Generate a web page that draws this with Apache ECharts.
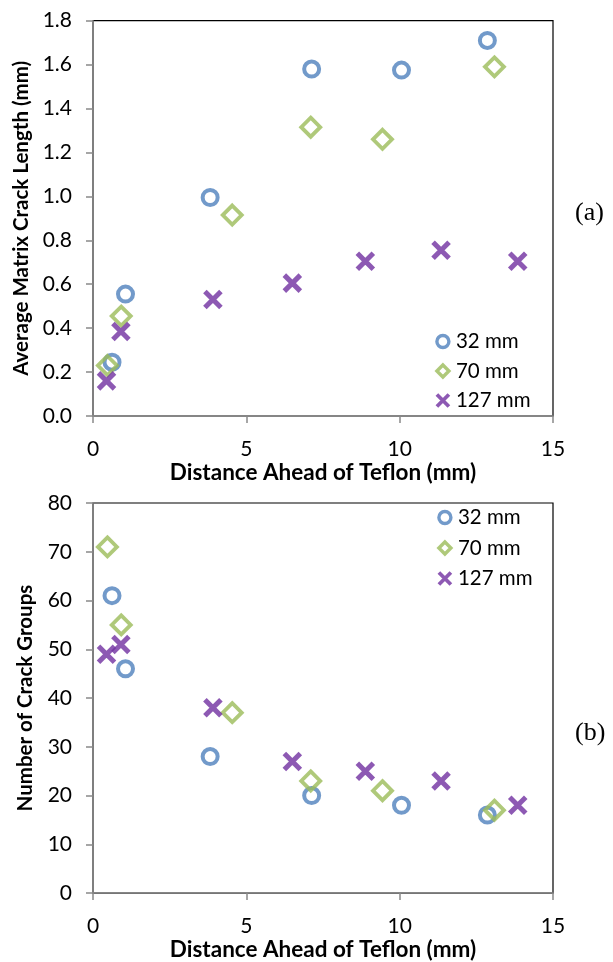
<!DOCTYPE html>
<html><head><meta charset="utf-8">
<script src="https://cdn.jsdelivr.net/npm/echarts@6/dist/echarts.min.js"></script>
<style>html,body{margin:0;padding:0;background:#fff}#c{width:613px;height:962px}</style>
</head><body><div id="c"></div>
<script>
const seriesNames = ['32 mm', '70 mm', '127 mm'];
// distance ahead of Teflon (mm)
const x32 = [0.62, 1.06, 3.82, 7.13, 10.06, 12.86];
const x70 = [0.47, 0.92, 4.54, 7.10, 9.44, 13.09];
const x127 = [0.44, 0.91, 3.91, 6.50, 8.88, 11.35, 13.85];
// (a) average matrix crack length (mm)
const len32 = [0.245, 0.555, 0.995, 1.58, 1.575, 1.71];
const len70 = [0.23, 0.455, 0.915, 1.315, 1.26, 1.59];
const len127 = [0.16, 0.385, 0.53, 0.605, 0.705, 0.755, 0.705];
// (b) number of crack groups
const grp32 = [61, 46, 28, 20, 18, 16];
const grp70 = [71, 55, 37, 23, 21, 17];
const grp127 = [49, 51, 38, 27, 25, 23, 18];
const xTitle = 'Distance Ahead of Teflon (mm)';
const yTitleA = 'Average Matrix Crack Length (mm)';
const yTitleB = 'Number of Crack Groups';
const panelLabels = ['(a)', '(b)'];

const FONT = 'Lato';
const BLUE = '#4F81BD', GREEN = '#9BBB59', PURPLE = '#7030A0';
const COLORS = [BLUE, GREEN, PURPLE];
const AXIS = '#898989';
const zip = (a, b) => a.map((v, i) => [v, b[i]]);

const styles = [
  {symbol: 'circle', symbolSize: 15, itemStyle: {color: 'rgba(0,0,0,0)', borderColor: BLUE, borderWidth: 4}},
  {symbol: 'diamond', symbolSize: 19, itemStyle: {color: 'rgba(0,0,0,0)', borderColor: GREEN, borderWidth: 3.8}},
  {symbol: 'path://M0,0L10,10M10,0L0,10', symbolSize: 16, itemStyle: {color: 'rgba(0,0,0,0)', borderColor: PURPLE, borderWidth: 5}}
];

function mk(i, gi, data) {
  return Object.assign({
    type: 'scatter', name: seriesNames[i], xAxisIndex: gi, yAxisIndex: gi,
    data: data, z: 3 + i
  }, JSON.parse(JSON.stringify(styles[i])));
}

function xAxis(gi) {
  return {
    gridIndex: gi, type: 'value', min: 0, max: 15, interval: 5,
    name: xTitle, nameLocation: 'middle', nameGap: 43,
    nameTextStyle: {fontFamily: FONT, fontWeight: 'bold', fontSize: 22.5, color: '#000'},
    axisLine: {show: true, onZero: false, lineStyle: {color: AXIS, width: 1.5}},
    axisTick: {show: true, inside: false, length: 7, lineStyle: {color: AXIS, width: 1.5}},
    axisLabel: {fontFamily: FONT, fontSize: 21, color: '#000', margin: 23},
    splitLine: {show: false}
  };
}
function yAxis(gi, max, interval, name, dec) {
  return {
    gridIndex: gi, type: 'value', min: 0, max: max, interval: interval,
    name: name, nameLocation: 'middle', nameGap: 57,
    nameTextStyle: {fontFamily: FONT, fontWeight: 'bold', fontSize: 20.5, color: '#000'},
    axisLine: {show: true, onZero: false, lineStyle: {color: AXIS, width: 1.5}},
    axisTick: {show: true, inside: false, length: 7, lineStyle: {color: AXIS, width: 1.5}},
    axisLabel: {fontFamily: FONT, fontSize: 21, color: '#000', margin: 21,
      formatter: v => v.toFixed(dec)},
    splitLine: {show: false}
  };
}
const legendIcon = [
  {borderWidth: 3.4}, {borderWidth: 3.4}, {borderWidth: 3.8}
];
function legend(left, top, gap) {
  return {
    data: seriesNames.map((n, i) => ({name: n, itemStyle: Object.assign({color: 'rgba(0,0,0,0)', borderColor: COLORS[i]}, legendIcon[i])})),
    orient: 'vertical', left: left, top: top,
    itemWidth: 12, itemHeight: 12, itemGap: gap, padding: 0,
    textStyle: {fontFamily: FONT, fontSize: 20.5, color: '#000', padding: [0, 0, 0, 2]},
    selectedMode: false
  };
}

const chart = echarts.init(document.getElementById('c'), null, {renderer: 'canvas'});
chart.setOption({
  animation: false,
  backgroundColor: '#fff',
  grid: [
    {left: 93, top: 20.7, width: 460, height: 395.3, show: true, borderColor: '#000', borderWidth: 1.2, backgroundColor: 'rgba(0,0,0,0)'},
    {left: 93, top: 503, width: 460, height: 392, show: true, borderColor: '#000', borderWidth: 1.2, backgroundColor: 'rgba(0,0,0,0)'}
  ],
  xAxis: [xAxis(0), xAxis(1)],
  yAxis: [yAxis(0, 1.8, 0.2, yTitleA, 1), yAxis(1, 80, 10, yTitleB, 0)],
  legend: [legend(435, 331, 8.5), legend(437, 507, 9.5)],
  graphic: [
    {type: 'text', left: 575, top: 200, style: {text: panelLabels[0], font: '26px "Liberation Serif"', fill: '#000'}},
    {type: 'text', left: 575, top: 720, style: {text: panelLabels[1], font: '26px "Liberation Serif"', fill: '#000'}}
  ],
  series: [
    mk(0, 0, zip(x32, len32)), mk(1, 0, zip(x70, len70)), mk(2, 0, zip(x127, len127)),
    mk(0, 1, zip(x32, grp32)), mk(1, 1, zip(x70, grp70)), mk(2, 1, zip(x127, grp127))
  ]
});
</script></body></html>
